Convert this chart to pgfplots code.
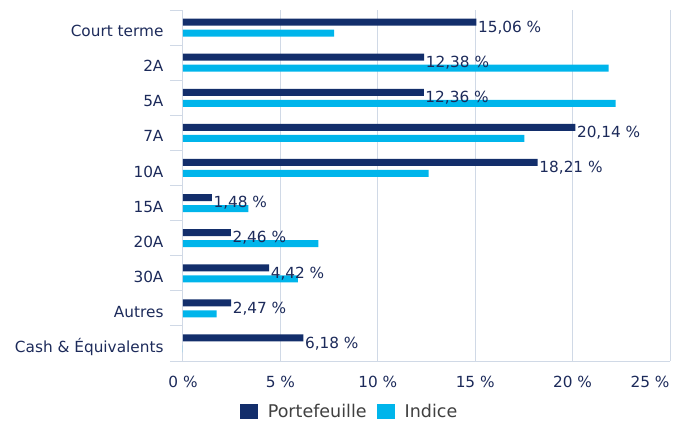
\documentclass[border=0pt]{standalone}
\usepackage{fontspec}
\setmainfont{DejaVu Sans}
\usepackage{pgfplots}
\pgfplotsset{compat=1.18}
\definecolor{navybar}{RGB}{19,46,107}
\definecolor{cyanbar}{RGB}{0,181,235}
\definecolor{txt}{RGB}{28,42,90}
\definecolor{gridc}{RGB}{208,217,230}
\definecolor{legtxt}{RGB}{64,64,64}
\begin{document}
\begin{tikzpicture}
\path[use as bounding box] (-183pt,-62pt) rectangle (504pt,361pt);
\begin{axis}[
  at={(0pt,0pt)}, anchor=south west,
  scale only axis, width=487pt, height=351pt,
  xbar, bar width=7pt,
  xmin=0, xmax=25, ymin=-0.5, ymax=9.5, y dir=reverse,
  axis x line*=bottom, axis y line*=left,
  axis line style={draw=gridc, line width=1pt, -},
  ytick={0,...,9},
  yticklabels={Court terme,2A,5A,7A,10A,15A,20A,30A,Autres,Cash \& Équivalents},
  minor ytick={-0.5,0.5,...,9.5},
  major tick length=0pt, minor tick length=13pt,
  tick align=outside,
  minor tick style={draw=gridc, line width=1pt},
  xtick={0,5,10,15,20},
  xticklabels={0 \%,5 \%,10 \%,15 \%,20 \%},
  extra x ticks={25}, extra x tick labels={25 \%},
  extra x tick style={grid=major, xticklabel style={anchor=north east, xshift=3pt}},
  xmajorgrids, major grid style={draw=gridc, line width=1pt},
  tick label style={font=\fontsize{15.3}{18}\selectfont, text=txt},
  yticklabel style={anchor=east, xshift=-16pt, yshift=-3.5pt},
  xticklabel style={yshift=-12pt},
  legend style={at={(0.342,-0.145)}, anchor=center, draw=none, legend columns=2,
    font=\fontsize{17.5}{20}\selectfont, text=legtxt,
    /tikz/every odd column/.append style={column sep=8pt},
    /tikz/every even column/.append style={column sep=8pt}},
  legend image code/.code={\fill[#1] (0pt,-7.5pt) rectangle (18pt,7.5pt);},
]
\addplot[fill=navybar, draw=none, bar shift=5.5pt,
  nodes near coords, point meta=explicit symbolic,
  every node near coord/.append style={anchor=west, inner sep=1.5pt, yshift=-5.5pt,
    font=\fontsize{15.3}{18}\selectfont, text=txt}]
  coordinates {(15.06,0) [15,06 \%] (12.38,1) [12,38 \%] (12.36,2) [12,36 \%]
    (20.14,3) [20,14 \%] (18.21,4) [18,21 \%] (1.48,5) [1,48 \%]
    (2.46,6) [2,46 \%] (4.42,7) [4,42 \%] (2.47,8) [2,47 \%] (6.18,9) [6,18 \%]};
\addplot[fill=cyanbar, draw=none, bar shift=-5.5pt]
  coordinates {(7.76,0) (21.85,1) (22.21,2) (17.52,3) (12.61,4) (3.36,5) (6.95,6) (5.90,7) (1.73,8) (0,9)};
\legend{Portefeuille, Indice}
\end{axis}
\end{tikzpicture}
\end{document}
